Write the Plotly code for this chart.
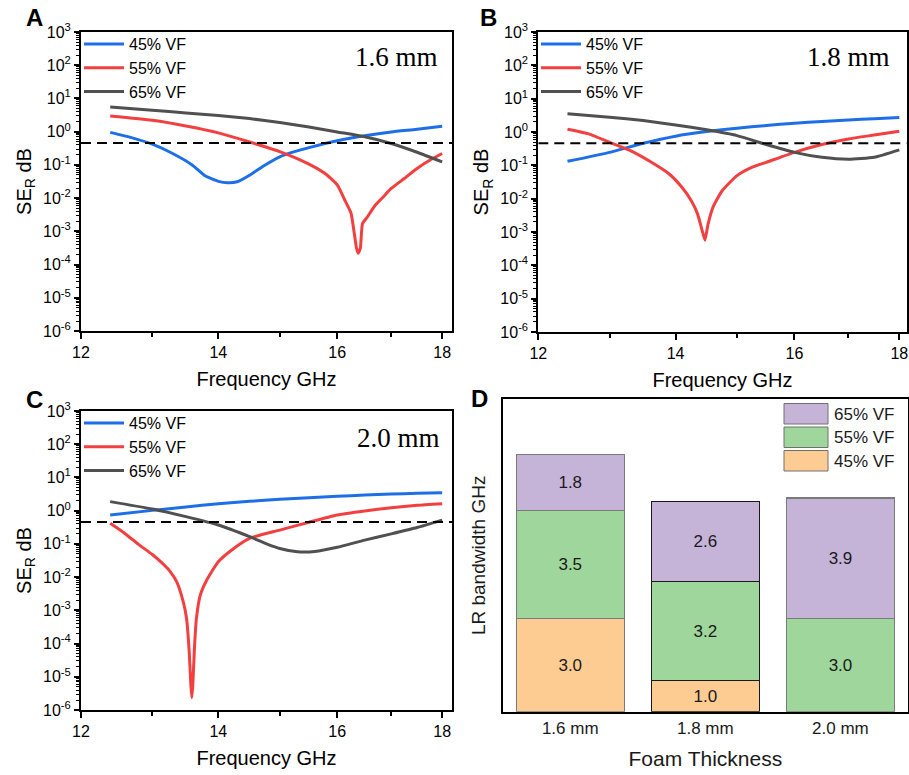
import math
import plotly.graph_objects as go

# ---------------- data ----------------
# Panel A: 1.6 mm foam
a_freq_45 = [12.4, 12.7, 13.0, 13.3, 13.6, 13.8, 14.0, 14.15, 14.3, 14.5, 14.75, 15.0, 15.25, 15.5, 16.0, 16.5, 17.0, 17.5, 18.0]
a_ser_45 = [0.95, 0.66, 0.42, 0.22, 0.098, 0.046, 0.032, 0.029, 0.031, 0.049, 0.098, 0.175, 0.25, 0.33, 0.53, 0.75, 0.98, 1.18, 1.46]
a_freq_55 = [12.4, 13.0, 13.5, 14.0, 14.5, 15.0, 15.5, 15.8, 16.0, 16.15, 16.25, 16.3, 16.35, 16.38, 16.42, 16.46, 16.55, 16.7, 16.85, 17.0, 17.25, 17.5, 17.75, 18.0]
a_ser_55 = [2.98, 2.2, 1.49, 0.92, 0.49, 0.25, 0.105, 0.052, 0.025, 0.0078, 0.0035, 0.0011, 3.1e-4, 2.2e-4, 3.1e-4, 0.0017, 0.0027, 0.0062, 0.011, 0.0195, 0.039, 0.078, 0.138, 0.22]
a_freq_65 = [12.4, 13.0, 13.5, 14.0, 14.5, 15.0, 15.5, 16.0, 16.5, 17.0, 17.5, 18.0]
a_ser_65 = [5.56, 4.4, 3.67, 3.05, 2.48, 1.88, 1.39, 0.98, 0.70, 0.44, 0.24, 0.123]

# Panel B: 1.8 mm foam
b_freq_45 = [12.4, 13.0, 13.5, 14.0, 14.5, 15.0, 15.5, 16.0, 16.5, 17.0, 17.5, 18.0]
b_ser_45 = [0.132, 0.245, 0.46, 0.75, 1.03, 1.3, 1.56, 1.84, 2.06, 2.31, 2.48, 2.72]
b_freq_55 = [12.4, 12.7, 13.0, 13.3, 13.6, 13.9, 14.1, 14.25, 14.35, 14.42, 14.47, 14.52, 14.6, 14.75, 15.0, 15.25, 15.5, 16.0, 16.5, 17.0, 17.5, 18.0]
b_ser_55 = [1.21, 0.88, 0.49, 0.28, 0.132, 0.055, 0.022, 0.0087, 0.0035, 0.0012, 5.7e-4, 0.0017, 0.0055, 0.017, 0.049, 0.087, 0.123, 0.245, 0.42, 0.62, 0.81, 1.05]
b_freq_65 = [12.4, 13.0, 13.5, 14.0, 14.5, 15.0, 15.5, 16.0, 16.5, 17.0, 17.5, 18.0]
b_ser_65 = [3.5, 2.78, 2.2, 1.63, 1.16, 0.78, 0.42, 0.245, 0.174, 0.152, 0.174, 0.29]

# Panel C: 2.0 mm foam
c_freq_45 = [12.4, 13.0, 13.5, 14.0, 14.5, 15.0, 15.5, 16.0, 16.5, 17.0, 17.5, 18.0]
c_ser_45 = [0.74, 1.02, 1.29, 1.62, 1.91, 2.19, 2.46, 2.7, 2.96, 3.17, 3.32, 3.48]
c_freq_55 = [12.4, 12.6, 12.8, 13.0, 13.15, 13.25, 13.36, 13.46, 13.51, 13.55, 13.575, 13.59, 13.605, 13.63, 13.66, 13.72, 13.82, 14.0, 14.25, 14.5, 15.0, 15.5, 16.0, 16.5, 17.0, 17.5, 18.0]
c_ser_55 = [0.415, 0.21, 0.097, 0.048, 0.026, 0.016, 0.0073, 0.0018, 5.7e-4, 5.7e-5, 5.7e-6, 2.35e-6, 5.7e-6, 7.3e-5, 5.7e-4, 0.0029, 0.0082, 0.029, 0.074, 0.147, 0.26, 0.45, 0.74, 0.98, 1.23, 1.45, 1.62]
c_freq_65 = [12.4, 13.0, 13.5, 14.0, 14.5, 14.8, 15.0, 15.3, 15.6, 16.0, 16.5, 17.0, 17.5, 18.0]
c_ser_65 = [1.87, 1.12, 0.66, 0.37, 0.165, 0.097, 0.073, 0.058, 0.059, 0.079, 0.13, 0.2, 0.31, 0.52]

# 10 % reflection threshold in dB
threshold_db = 0.4576

# Panel D: low-reflection bandwidth (GHz), stacked by volume fraction
thickness = ["1.6 mm", "1.8 mm", "2.0 mm"]
bw_45 = [3.0, 1.0, None]
bw_55 = [3.5, 3.2, 3.0]
bw_65 = [1.8, 2.6, 3.9]

series_names = ["45% VF", "55% VF", "65% VF"]
x_ticks = [12, 14, 16, 18]
x_minor_ticks = [13, 15, 17]
y_exponents = list(range(-6, 4))

# ---------------- styling ----------------
FONT = "Liberation Sans"
SERIF = "Liberation Serif"
line_colors = ["#1e6fe6", "#f23f3f", "#505050"]
bar_colors = ["#fdcc92", "#9ed69c", "#c5b4d8"]
bar_edges = ["#7a7a7a", "#1a1a1a", "#7a7a7a"]

W, H = 909, 775


def px_x(p):
    return p / W


def px_y(p):
    return 1 - p / H


fig = go.Figure()

panels = [
    ("x", "y", "legend", [(a_freq_45, a_ser_45), (a_freq_55, a_ser_55), (a_freq_65, a_ser_65)], 18.2),
    ("x2", "y2", "legend2", [(b_freq_45, b_ser_45), (b_freq_55, b_ser_55), (b_freq_65, b_ser_65)], 18.15),
    ("x3", "y3", "legend3", [(c_freq_45, c_ser_45), (c_freq_55, c_ser_55), (c_freq_65, c_ser_65)], 18.2),
]

for xa, ya, lg, curves, fmax in panels:
    for (f, s), name, col in zip(curves, series_names, line_colors):
        fig.add_trace(go.Scatter(
            x=f, y=s, mode="lines", name=name, xaxis=xa, yaxis=ya, legend=lg,
            line=dict(color=col, width=3, shape="spline", smoothing=0.5), showlegend=True,
        ))
    fig.add_trace(go.Scatter(
        x=[12, fmax], y=[threshold_db, threshold_db], mode="lines", xaxis=xa, yaxis=ya,
        line=dict(color="black", width=2, dash="10px,6px"), showlegend=False, hoverinfo="skip",
    ))

for vals, name, col in zip([bw_45, bw_55, bw_65], series_names, bar_colors):
    fig.add_trace(go.Bar(
        x=thickness, y=vals, name=name, xaxis="x4", yaxis="y4",
        marker=dict(color=col, line=dict(color=bar_edges, width=1.2)),
        texttemplate="%{y:.1f}", textposition="inside", insidetextanchor="middle",
        textfont=dict(family=FONT, size=17, color="#1a1a1a"), textangle=0,
        showlegend=False,
    ))

y_minor = [m * 10.0 ** k for k in y_exponents[:-1] for m in range(2, 10)]


# axes
def freq_axis(domain, anchor, fmax):
    return dict(
        type="log", domain=domain, anchor=anchor, automargin=False,
        range=[math.log10(12), math.log10(fmax)],
        tickmode="array", tickvals=x_ticks, ticktext=[str(v) for v in x_ticks],
        ticks="outside", ticklen=6, tickwidth=2, tickcolor="black",
        minor=dict(tickmode="array", tickvals=x_minor_ticks, ticks="outside", ticklen=4, tickwidth=2, tickcolor="black"),
        showline=True, linewidth=2, linecolor="black", mirror=True, showgrid=False, zeroline=False,
        tickfont=dict(family=FONT, size=16, color="black"),
        title=dict(text="Frequency GHz", font=dict(family=FONT, size=20, color="black"), standoff=12),
    )


def ser_axis(domain, anchor):
    return dict(
        type="log", domain=domain, anchor=anchor, range=[-6, 3], automargin=False,
        tickmode="array", tickvals=[10.0 ** k for k in y_exponents],
        ticktext=["10<sup>%d</sup>" % k for k in y_exponents],
        ticks="outside", ticklen=5, tickwidth=2, tickcolor="black",
        minor=dict(tickmode="array", tickvals=y_minor, ticks="outside", ticklen=3, tickwidth=1, tickcolor="black"),
        showline=True, linewidth=2, linecolor="black", mirror=True, showgrid=False, zeroline=False,
        tickfont=dict(family=FONT, size=16, color="black"),
        title=dict(text="SE<sub>R</sub> dB", font=dict(family=FONT, size=20, color="black"), standoff=6),
    )


dom_ax = [px_x(81), px_x(452)]
dom_bx = [px_x(538.3), px_x(906.7)]
dom_ay = [px_y(331), px_y(32)]
dom_by = [px_y(332), px_y(32)]
dom_cy = [px_y(710), px_y(411)]
dom_dx = [px_x(502.7), px_x(908)]
dom_dy = [px_y(711.7), px_y(399)]

layout = dict(
    width=W, height=H, margin=dict(l=0, r=0, t=0, b=0),
    paper_bgcolor="white", plot_bgcolor="white",
    font=dict(family=FONT, color="black"),
    barmode="stack", bargap=0.2,
    xaxis=freq_axis(dom_ax, "y", 18.2), yaxis=ser_axis(dom_ay, "x"),
    xaxis2=freq_axis(dom_bx, "y2", 18.15), yaxis2=ser_axis(dom_by, "x2"),
    xaxis3=freq_axis(dom_ax, "y3", 18.2), yaxis3=ser_axis(dom_cy, "x3"),
    xaxis4=dict(
        domain=dom_dx, anchor="y4", range=[-0.5, 2.5], ticks="", showline=True, linewidth=2,
        linecolor="black", mirror=True, showgrid=False, automargin=False,
        tickfont=dict(family=FONT, size=17, color="#1a1a1a"),
        title=dict(text="Foam Thickness", font=dict(family=FONT, size=21, color="#1a1a1a"), standoff=14),
    ),
    yaxis4=dict(
        domain=dom_dy, anchor="x4", range=[0, 10.1], showticklabels=False, ticks="",
        showline=True, linewidth=2, linecolor="black", mirror=True, showgrid=False, zeroline=False,
        automargin=False,
        title=dict(text="LR bandwidth GHz", font=dict(family=FONT, size=19, color="#1a1a1a"), standoff=10),
    ),
)

for lg, (lx, ly) in zip(["legend", "legend2", "legend3"], [(79, 27), (536, 27), (79, 406)]):
    layout[lg] = dict(
        x=px_x(lx), y=px_y(ly), xanchor="left", yanchor="top", bgcolor="rgba(0,0,0,0)",
        font=dict(family=FONT, size=16, color="black"), tracegroupgap=0, itemwidth=40,
        traceorder="normal",
    )

fig.update_layout(**layout)

# thickness labels inside panels A-C
for text, x, y in [("1.6 mm", 396, 57), ("1.8 mm", 848, 57), ("2.0 mm", 398, 438)]:
    fig.add_annotation(text=text, x=px_x(x), y=px_y(y), xref="paper", yref="paper",
                       xanchor="center", yanchor="middle",
                       showarrow=False, font=dict(family=SERIF, size=27, color="black"))

# panel letters
for text, x, y in [("A", 34, 18), ("B", 488, 18), ("C", 34, 399), ("D", 480, 398)]:
    fig.add_annotation(text="<b>%s</b>" % text, x=px_x(x), y=px_y(y), xref="paper", yref="paper",
                       xanchor="center", yanchor="middle",
                       showarrow=False, font=dict(family=FONT, size=24, color="black"))

# legend for the stacked bars (top entry = top of stack)
for i, (name, col) in enumerate(reversed(list(zip(series_names, bar_colors)))):
    top = 403.5 + i * 23.5
    fig.add_shape(type="rect", xref="paper", yref="paper",
                  x0=px_x(784), x1=px_x(828), y0=px_y(top + 20.5), y1=px_y(top),
                  fillcolor=col, line=dict(color="#707070", width=1))
    fig.add_annotation(text=name, x=px_x(832), y=px_y(top + 10.5), xref="paper", yref="paper",
                       xanchor="left", yanchor="middle", showarrow=False,
                       font=dict(family=FONT, size=17, color="#1a1a1a"))

fig.write_html("out.html")
